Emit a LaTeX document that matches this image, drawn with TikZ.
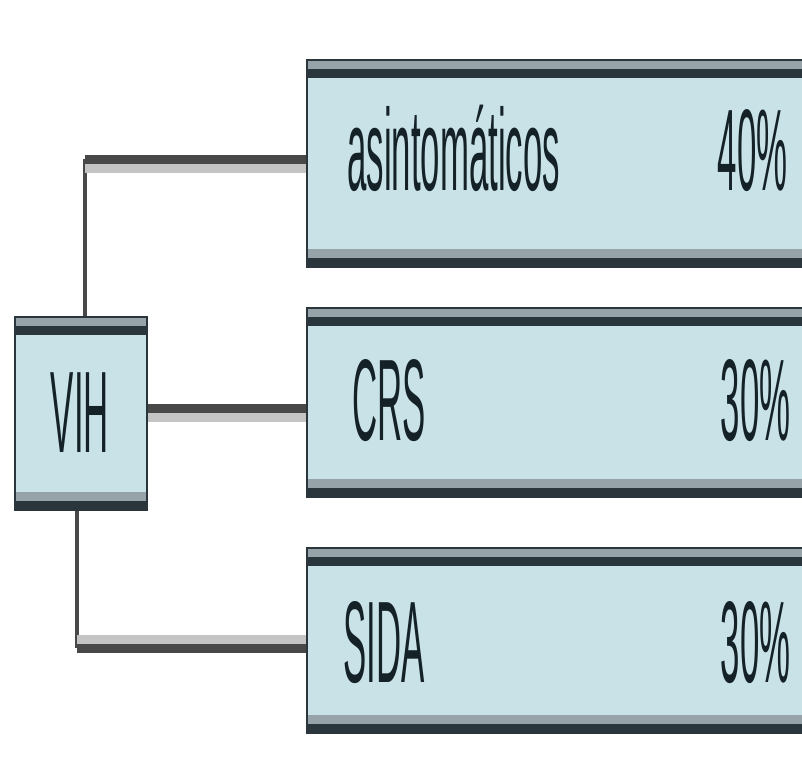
\documentclass[tikz,border=0pt]{standalone}
\usepackage{fontspec}
\setmainfont{Liberation Sans}
\usetikzlibrary{positioning}

\definecolor{boxfill}{RGB}{200,226,232}
\definecolor{boxedge}{RGB}{42,54,60}
\definecolor{bandgray}{RGB}{150,164,170}
\definecolor{linkdark}{RGB}{72,72,72}
\definecolor{linkshade}{RGB}{196,196,196}
\definecolor{textdark}{RGB}{20,34,40}

\tikzset{
  box/.style={rectangle, fill=boxfill, draw=boxedge, line width=1pt, inner sep=0pt,
    path picture={
      \fill[bandgray] (path picture bounding box.north west) rectangle ([yshift=-4.5pt]path picture bounding box.north east);
      \fill[boxedge] ([yshift=-4.5pt]path picture bounding box.north west) rectangle ([yshift=-9pt]path picture bounding box.north east);
      \fill[bandgray] ([yshift=9pt]path picture bounding box.south west) rectangle ([yshift=4.5pt]path picture bounding box.south east);
      \fill[boxedge] ([yshift=4.5pt]path picture bounding box.south west) rectangle (path picture bounding box.south east);
    }},
  boxtext/.style={text=textdark, inner sep=0pt, font=\fontsize{58}{60}\selectfont},
  stem/.style={draw=linkdark, line width=2.2pt},
  branch/.style={draw=linkdark, line width=4.5pt},
  shadedown/.style={draw=linkshade, line width=4.5pt, transform canvas={yshift=-4.5pt}},
  shadeup/.style={draw=linkshade, line width=4.5pt, transform canvas={yshift=4.5pt}}
}
\newcommand{\narrow}[1]{\scalebox{0.3}[1]{#1}}

\begin{document}
\begin{tikzpicture}[x=0.5pt,y=-0.5pt]
\useasboundingbox (0,0) rectangle (802,761);
\fill[white] (0,0) rectangle (802,761);
\clip (0,0) rectangle (802,761);

\node[box, minimum width=66pt, minimum height=96.5pt] (vih) at (81,413.5) {};
\node[box, minimum width=256.5pt, minimum height=103.5pt] (box1) at (563.5,163.5) {};
\node[box, minimum width=256.5pt, minimum height=94.5pt] (box2) at (563.5,402.5) {};
\node[box, minimum width=256.5pt, minimum height=92.5pt] (box3) at (563.5,640.5) {};

\node[boxtext, anchor=base] (vihtext) at (80,452) {\narrow{VIH}};
\node[boxtext, anchor=base west] (asin) at (347,190) {\narrow{asintomáticos}};
\node[boxtext, anchor=base east] (asinpct) at (788,190) {\narrow{40\%}};
\node[boxtext, anchor=base west] (crs) at (352,440) {\narrow{CRS}};
\node[boxtext, anchor=base east] (crspct) at (791,440) {\narrow{30\%}};
\node[boxtext, anchor=base west] (sida) at (343,682) {\narrow{SIDA}};
\node[boxtext, anchor=base east] (sidapct) at (791,682) {\narrow{30\%}};

\coordinate (k1) at (85,159);
\coordinate (k2) at (147,408);
\coordinate (k3) at (77,648);

\draw[stem] (vih.north -| k1) -- (k1);
\draw[shadedown] (k1) -- (k1 -| box1.west);
\draw[branch] (k1) -- (k1 -| box1.west);

\draw[shadedown] (vih.east |- k2) -- (k2 -| box2.west);
\draw[branch] (vih.east |- k2) -- (k2 -| box2.west);

\draw[stem] (vih.south -| k3) -- (k3);
\draw[shadeup] (k3) -- (k3 -| box3.west);
\draw[branch] (k3) -- (k3 -| box3.west);
\end{tikzpicture}
\end{document}
